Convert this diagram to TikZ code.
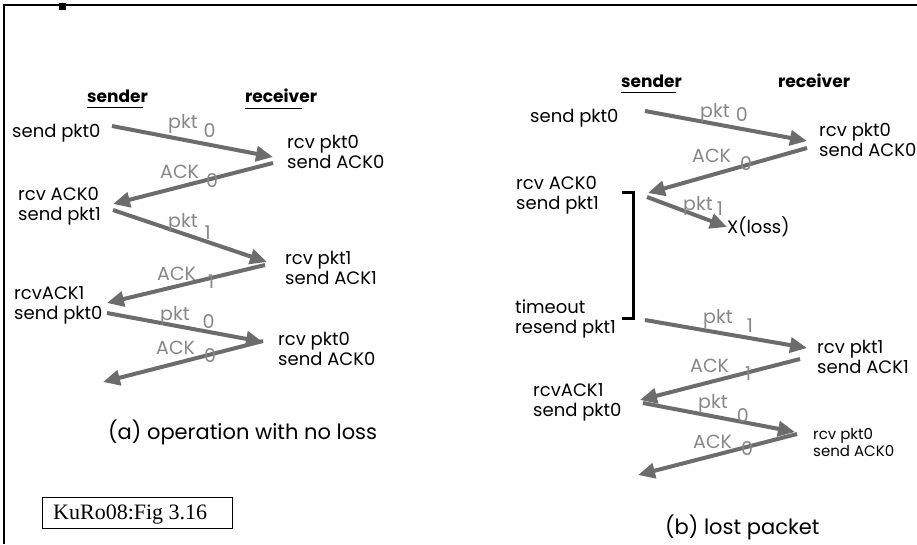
\documentclass[tikz,border=0pt]{standalone}
\usepackage{fontspec}
\setmainfont{Poppins}
\newfontfamily\reffont{Liberation Serif}
\usetikzlibrary{arrows.meta}
\definecolor{arrowgray}{RGB}{108,108,108}
\definecolor{labelgray}{RGB}{135,135,135}
\tikzstyle{evt} = [inner sep=0pt, anchor=west, align=left, font=\fontsize{18}{20}\selectfont]
\tikzstyle{evtsmall} = [inner sep=0pt, anchor=west, align=left, font=\fontsize{15}{17}\selectfont]
\tikzstyle{role} = [inner sep=0pt, anchor=west, font=\fontsize{17}{19}\selectfont\bfseries]
\tikzstyle{msglbl} = [inner sep=0pt, anchor=base west, text=labelgray, font=\fontsize{19}{21}\selectfont]
\tikzstyle{msg} = [line width=4pt, draw=arrowgray, -{Triangle[length=17pt,width=15pt]}]
\tikzstyle{caption} = [inner sep=0pt, anchor=west, font=\fontsize{21}{24}\selectfont]
\newcommand{\seqlbl}[4]{#1\hspace{#3pt}\raisebox{-#4pt}{#2}}

\begin{document}
\begin{tikzpicture}[x=1pt, y=-1pt]
    \useasboundingbox (0,0) rectangle (917,544);
    % Frame
    \draw [line width=1.5pt] (4,544) -- (4,5) -- (917,5);
    \fill (59,3) rectangle (66,10);

    % (a) operation with no loss
    \node (sndA) [role] at (87,96) {sender};
    \node (rcvA) [role] at (245,96) {receiver};
    \draw [line width=1pt] (sndA.south west) ++(0,5) -- ++(56,0);
    \draw [line width=1pt] (rcvA.south west) ++(0,5) -- ++(57,0);

    \node (a-s0) [evt] at (12,133) {send pkt0};
    \node (a-r0) [evt] at (287,152) {rcv pkt0\\send ACK0};
    \node (a-s1) [evt] at (18,206) {rcv ACK0\\send pkt1};
    \node (a-r1) [evt] at (285,268) {rcv pkt1\\send ACK1};
    \node (a-s2) [evt] at (14,305) {rcvACK1\\send pkt0};
    \node (a-r2) [evt] at (278,349) {rcv pkt0\\send ACK0};

    \coordinate (a1s) at (112,126); \coordinate (a1e) at (273,157);
    \coordinate (a2s) at (273,163); \coordinate (a2e) at (113,204);
    \coordinate (a3s) at (113,210); \coordinate (a3e) at (267,262);
    \coordinate (a4s) at (265,265); \coordinate (a4e) at (107,303);
    \coordinate (a5s) at (107,313); \coordinate (a5e) at (263,342);
    \coordinate (a6s) at (263,341); \coordinate (a6e) at (103,382);

    \draw [msg] (a1s) -- (a1e);
    \draw [msg] (a2s) -- (a2e);
    \draw [msg] (a3s) -- (a3e);
    \draw [msg] (a4s) -- (a4e);
    \draw [msg] (a5s) -- (a5e);
    \draw [msg] (a6s) -- (a6e);

    \node (a-l1) [msglbl] at (168,128) {\seqlbl{pkt}{0}{6}{9}};
    \node (a-l2) [msglbl] at (160,178) {\seqlbl{ACK}{0}{7}{9}};
    \node (a-l3) [msglbl] at (168,227) {\seqlbl{pkt}{1}{7}{12}};
    \node (a-l4) [msglbl] at (157,280) {\seqlbl{ACK}{1}{12}{8}};
    \node (a-l5) [msglbl] at (160,320) {\seqlbl{pkt}{0}{13}{8}};
    \node (a-l6) [msglbl] at (156,354) {\seqlbl{ACK}{0}{9}{8}};

    \node (capA) [caption] at (108,432) {(a) operation with no loss};
    \node (ref) [draw, line width=0.8pt, minimum width=190pt, minimum height=31pt,
        anchor=north west] at (42,497) {};
    \node (reftxt) [inner sep=0pt, anchor=base west, font=\reffont\fontsize{22}{24}\selectfont]
        at (53,519) {KuRo08:Fig 3.16};

    % (b) lost packet
    \node (sndB) [role] at (621,81) {sender};
    \node (rcvB) [role] at (778,81) {receiver};
    \draw [line width=1pt] (sndB.south west) ++(0,5) -- ++(55,0);

    \node (b-s0) [evt] at (530,118) {send pkt0};
    \node (b-r0) [evt] at (819,140) {rcv pkt0\\send ACK0};
    \node (b-s1) [evt] at (516,195) {rcv ACK0\\send pkt1};
    \node (loss) [evt] at (727,227) {X(loss)};
    \node (b-to) [evt] at (515,319) {timeout\\resend pkt1};
    \node (b-r1) [evt] at (817,357) {rcv pkt1\\send ACK1};
    \node (b-s2) [evt] at (533,402) {rcvACK1\\send pkt0};
    \node (b-r2) [evtsmall] at (813,443) {rcv pkt0\\send ACK0};

    \coordinate (b1s) at (645,111); \coordinate (b1e) at (807,141);
    \coordinate (b2s) at (807,148); \coordinate (b2e) at (648,193);
    \coordinate (b3s) at (647,197);
    \coordinate (b4s) at (645,320); \coordinate (b4e) at (807,348);
    \coordinate (b5s) at (800,359); \coordinate (b5e) at (640,400);
    \coordinate (b6s) at (643,403); \coordinate (b6e) at (795,432);
    \coordinate (b7s) at (797,434); \coordinate (b7e) at (638,475);

    \draw [msg] (b1s) -- (b1e);
    \draw [msg] (b2s) -- (b2e);
    \draw [msg] (b3s) -- (loss.west);
    \draw [msg] (b4s) -- (b4e);
    \draw [msg] (b5s) -- (b5e);
    \draw [msg] (b6s) -- (b6e);
    \draw [msg] (b7s) -- (b7e);

    % timeout bracket
    \draw [line width=3pt] (622,192) -| (633,318) -- (622,318);

    \node (b-l1) [msglbl] at (700,117) {\seqlbl{pkt}{0}{6}{4}};
    \node (b-l2) [msglbl] at (692,162) {\seqlbl{ACK}{0}{9}{8}};
    \node (b-l3) [msglbl] at (683,210) {\seqlbl{pkt}{1}{4}{5}};
    \node (b-l4) [msglbl] at (703,323) {\seqlbl{pkt}{1}{14}{9}};
    \node (b-l5) [msglbl] at (690,372) {\seqlbl{ACK}{1}{16}{8}};
    \node (b-l6) [msglbl] at (698,408) {\seqlbl{pkt}{0}{9}{14}};
    \node (b-l7) [msglbl] at (693,448) {\seqlbl{ACK}{0}{9}{7}};

    \node (capB) [caption] at (665,527) {(b) lost packet};
\end{tikzpicture}
\end{document}
